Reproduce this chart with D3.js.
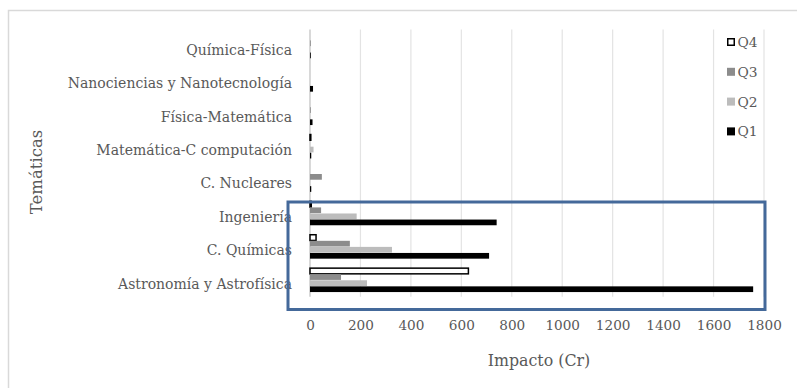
<!DOCTYPE html>
<html>
<head>
<meta charset="utf-8">
<script src="https://cdn.jsdelivr.net/npm/d3@7/dist/d3.min.js"></script>
<style>
  html, body { margin: 0; padding: 0; background: #fff; }
  svg { display: block; }
  text { font-family: "DejaVu Serif", "Liberation Serif", serif; fill: #595959; }
</style>
</head>
<body>
<svg id="chart" width="797" height="388"></svg>
<script>
// Topics, listed from the top of the chart downwards
const categories = [
  "Química-Física",
  "Nanociencias y Nanotecnología",
  "Física-Matemática",
  "Matemática-C computación",
  "C. Nucleares",
  "Ingeniería",
  "C. Químicas",
  "Astronomía y Astrofísica"
];

// Impact (Cr) per quartile, same order as categories
const q4 = [0, 0, 0, 2, 0, 5, 24, 628];
const q3 = [1.5, 0, 1.5, 0, 47, 44, 158, 123];
const q2 = [0, 0, 0, 14, 0, 185, 325, 226];
const q1 = [1.5, 12, 10, 5, 5, 740, 710, 1757];

const seriesNames = ["Q4", "Q3", "Q2", "Q1"];
const seriesValues = { Q4: q4, Q3: q3, Q2: q2, Q1: q1 };
const xTicks = [0, 200, 400, 600, 800, 1000, 1200, 1400, 1600, 1800];

const fills = { Q4: "#ffffff", Q3: "#8c8c8c", Q2: "#bcbcbc", Q1: "#000000" };

const svg = d3.select("#chart");

// Outer chart frame (runs off the right and bottom edges)
svg.append("rect")
  .attr("x", 8.5).attr("y", 10.5)
  .attr("width", 820).attr("height", 400)
  .attr("fill", "none").attr("stroke", "#d9d9d9").attr("stroke-width", 1.5);

const plot = { left: 310, right: 764, top: 29.6, bottom: 296.8 };

const x = d3.scaleLinear().domain([0, 1800]).range([plot.left, plot.right]);
const y = d3.scaleBand().domain(categories).range([plot.top, plot.bottom]).paddingInner(0).paddingOuter(0);
const ySub = d3.scaleBand().domain(seriesNames).range([0, y.bandwidth()])
  .paddingOuter(0.78).paddingInner(0.06);

// Vertical gridlines
svg.append("g")
  .selectAll("line")
  .data(xTicks)
  .join("line")
  .attr("x1", d => x(d)).attr("x2", d => x(d))
  .attr("y1", plot.top).attr("y2", plot.bottom)
  .attr("stroke", d => d === 0 ? "#bfbfbf" : "#e3e3e3")
  .attr("stroke-width", 1.2);

// Bars
const rows = [];
categories.forEach((c, i) => {
  seriesNames.forEach(s => rows.push({ cat: c, series: s, value: seriesValues[s][i] }));
});

svg.append("g")
  .selectAll("rect")
  .data(rows.filter(r => r.value > 0))
  .join("rect")
  .attr("x", x(0))
  .attr("y", d => y(d.cat) + ySub(d.series))
  .attr("width", d => Math.max(0.8, x(d.value) - x(0)))
  .attr("height", ySub.bandwidth())
  .attr("fill", d => fills[d.series])
  .attr("stroke", d => d.series === "Q4" ? "#000" : "none")
  .attr("stroke-width", 1.5);

// Category axis labels
const yAxis = d3.axisLeft(y).tickSize(0).tickPadding(18);
const gy = svg.append("g").attr("transform", `translate(${plot.left},0)`).call(yAxis);
gy.select(".domain").remove();
gy.selectAll("text")
  .attr("dy", "0.6em")
  .style("font-size", "14px")
  .attr("fill", "#595959");

// Value axis labels
const xAxis = d3.axisBottom(x).tickValues(xTicks).tickSize(0).tickPadding(0).tickFormat(d3.format("d"));
const gx = svg.append("g").attr("transform", `translate(0,${plot.bottom})`).call(xAxis);
gx.select(".domain").remove();
gx.selectAll("text")
  .attr("dy", "2.45em")
  .style("font-size", "13.6px")
  .attr("fill", "#595959");

// Axis titles
svg.append("text")
  .attr("x", 539).attr("y", 366)
  .attr("text-anchor", "middle")
  .style("font-size", "15.8px")
  .text("Impacto (Cr)");

svg.append("text")
  .attr("transform", "translate(42,172) rotate(-90)")
  .attr("text-anchor", "middle")
  .style("font-size", "16.5px")
  .text("Temáticas");

// Legend
const legend = svg.append("g").attr("transform", "translate(727,38)");
seriesNames.forEach((s, i) => {
  const g = legend.append("g").attr("transform", `translate(0,${i * 29.8})`);
  g.append("rect")
    .attr("x", s === "Q4" ? 0.75 : 0).attr("y", s === "Q4" ? 0.75 : 0)
    .attr("width", s === "Q4" ? 6.5 : 8).attr("height", s === "Q4" ? 6.5 : 8)
    .attr("fill", fills[s])
    .attr("stroke", s === "Q4" ? "#000" : "none")
    .attr("stroke-width", 1.5);
  g.append("text")
    .attr("x", 10.5).attr("y", 4).attr("dy", "0.36em")
    .style("font-size", "13.8px")
    .text(s);
});

// Highlight box around the three leading topics
svg.append("rect")
  .attr("x", 288).attr("y", 202)
  .attr("width", 477).attr("height", 107.5)
  .attr("fill", "none")
  .attr("stroke", "#44699a")
  .attr("stroke-width", 3);
</script>
</body>
</html>
